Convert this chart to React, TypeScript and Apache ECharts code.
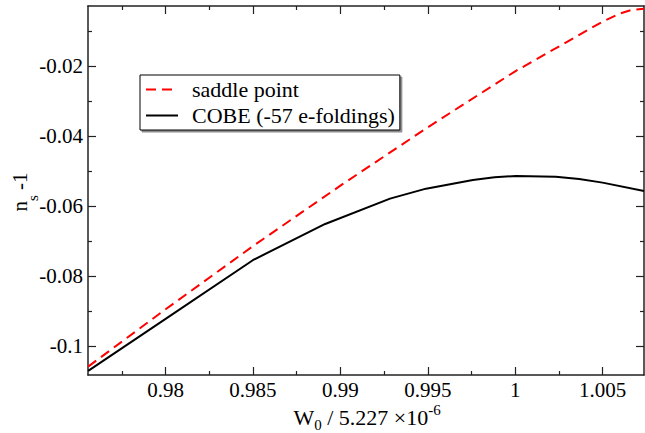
import React, { useEffect, useRef } from "react";
import * as echarts from "echarts";

const FONT = "Liberation Serif, Times New Roman, serif";

// x: W0 / 5.227e-6, y: n_s - 1
const saddleW = [0.97557, 0.98, 0.98501, 0.99, 0.995, 1.0, 1.005, 1.00603, 1.00665, 1.00737];
const saddleNs = [-0.1059, -0.08952, -0.07143, -0.05419, -0.03752, -0.02152, -0.00733, -0.00495, -0.004, -0.00362];

const cobeW = [0.97557, 0.98, 0.98501, 0.98913, 0.99284, 0.9949, 0.99758, 0.99882, 1.00005, 1.00232, 1.00366, 1.005, 1.00737];
const cobeNs = [-0.10714, -0.09226, -0.07543, -0.06514, -0.0579, -0.05505, -0.05257, -0.05181, -0.05143, -0.05162, -0.05229, -0.05333, -0.05571];

const xMajorTicks = [0.98, 0.985, 0.99, 0.995, 1.0, 1.005];
const xMinorTicks = [0.9775, 0.9825, 0.9875, 0.9925, 0.9975, 1.0025];
const yMajorTicks = [-0.1, -0.08, -0.06, -0.04, -0.02];
const yMinorTicks = [-0.09, -0.07, -0.05, -0.03, -0.01];

const X_MIN = 0.97556;
const X_MAX = 1.00737;
const Y_MIN = -0.1083;
const Y_MAX = -0.00286;

const seriesNames = ["saddle point", "COBE (-57 e-foldings)"];

const fmt = (v: number) => "{t|" + String(+Number(v).toFixed(4)) + "}";
const tickRich = { t: { fontSize: 21, fontFamily: FONT, fill: "#000", color: "#000" } };

export default function App() {
  const ref = useRef<HTMLDivElement>(null);
  useEffect(() => {
    if (!ref.current) return;
    const chart = echarts.init(ref.current, null, { renderer: "svg" });
    const axisColor = "#222";
    const mkX = (position: string, ticks: number[], len: number, showLine: boolean, showLabel: boolean) => ({
      type: "value",
      position,
      min: X_MIN,
      max: X_MAX,
      offset: 0,
      splitLine: { show: false },
      axisLine: { show: showLine, onZero: false, lineStyle: { color: axisColor, width: 1.5 } },
      axisTick: { show: true, inside: true, length: len, customValues: ticks, lineStyle: { color: axisColor, width: 1.2 } },
      axisLabel: {
        show: showLabel,
        customValues: ticks,
        formatter: fmt,
        fontSize: 21,
        fontFamily: FONT,
        color: "#000",
        margin: 4,
        rich: tickRich,
      },
    });
    const mkY = (position: string, ticks: number[], len: number, showLine: boolean, showLabel: boolean) => ({
      type: "value",
      position,
      min: Y_MIN,
      max: Y_MAX,
      offset: 0,
      splitLine: { show: false },
      axisLine: { show: showLine, onZero: false, lineStyle: { color: axisColor, width: 1.5 } },
      axisTick: { show: true, inside: true, length: len, customValues: ticks, lineStyle: { color: axisColor, width: 1.2 } },
      axisLabel: {
        show: showLabel,
        customValues: ticks,
        formatter: fmt,
        fontSize: 21,
        fontFamily: FONT,
        color: "#000",
        margin: 5,
        rich: tickRich,
      },
    });
    chart.setOption({
      animation: false,
      backgroundColor: "#fff",
      textStyle: { fontFamily: FONT },
      grid: { left: 88, top: 6, width: 556, height: 369, containLabel: false },
      xAxis: [
        mkX("bottom", xMajorTicks, 8, true, true),
        mkX("bottom", xMinorTicks, 4, false, false),
        mkX("top", xMajorTicks, 8, true, false),
        mkX("top", xMinorTicks, 4, false, false),
      ],
      yAxis: [
        mkY("left", yMajorTicks, 8, true, true),
        mkY("left", yMinorTicks, 4, false, false),
        mkY("right", yMajorTicks, 8, true, false),
        mkY("right", yMinorTicks, 4, false, false),
      ],
      legend: {
        left: 140,
        top: 75,
        orient: "vertical",
        selectedMode: false,
        itemWidth: 32,
        itemHeight: 22,
        itemGap: 4,
        padding: [3.5, 5, 3.5, 5],
        borderColor: "#000",
        borderWidth: 1,
        borderRadius: 0,
        backgroundColor: "#fff",
        shadowColor: "rgba(0,0,0,0.45)",
        shadowOffsetX: 2,
        shadowOffsetY: 2,
        shadowBlur: 0,
        itemStyle: { opacity: 0 },
        formatter: (name: string) => "{t|" + name + "}",
        textStyle: {
          fontSize: 22,
          fontFamily: FONT,
          color: "#000",
          padding: [0, 0, 0, 9],
          lineHeight: 22,
          rich: { t: { fontSize: 22, fontFamily: FONT, fill: "#000", color: "#000", lineHeight: 22 } },
        },
        data: seriesNames,
      },
      graphic: [
        {
          type: "text",
          x: 367,
          y: 417,
          style: {
            text: "{m|W}{sub|0}{m| / 5.227 ×10}{sup|-6}",
            align: "center",
            verticalAlign: "middle",
            fill: "#000",
            rich: {
              m: { fontSize: 22, fontFamily: FONT, fill: "#000", lineHeight: 30, verticalAlign: "middle" },
              sub: { fontSize: 15, fontFamily: FONT, fill: "#000", lineHeight: 10, verticalAlign: "bottom" },
              sup: { fontSize: 15, fontFamily: FONT, fill: "#000", lineHeight: 8, verticalAlign: "top" },
            },
          },
        },
        {
          type: "text",
          x: 20,
          y: 192,
          rotation: Math.PI / 2,
          style: {
            text: "{m|n}{sub|s}{m| -1}",
            align: "center",
            verticalAlign: "middle",
            fill: "#000",
            rich: {
              m: { fontSize: 21, fontFamily: FONT, fill: "#000", lineHeight: 40, verticalAlign: "middle" },
              sub: { fontSize: 15, fontFamily: FONT, fill: "#000", lineHeight: 16, verticalAlign: "bottom" },
            },
          },
        },
      ],
      series: [
        {
          name: seriesNames[0],
          type: "line",
          xAxisIndex: 0,
          yAxisIndex: 0,
          symbol: "none",
          smooth: false,
          clip: true,
          data: saddleW.map((w, i) => [w, saddleNs[i]]),
          lineStyle: { color: "#ff0000", width: 2, type: [10, 6] },
          itemStyle: { color: "#ff0000" },
        },
        {
          name: seriesNames[1],
          type: "line",
          xAxisIndex: 0,
          yAxisIndex: 0,
          symbol: "none",
          smooth: false,
          clip: true,
          data: cobeW.map((w, i) => [w, cobeNs[i]]),
          lineStyle: { color: "#000000", width: 2 },
          itemStyle: { color: "#000000" },
        },
      ],
    });
    return () => chart.dispose();
  }, []);
  return (
    <div
      ref={ref}
      style={{ position: "fixed", left: 0, top: 0, width: 645, height: 433, background: "#fff" }}
    />
  );
}
